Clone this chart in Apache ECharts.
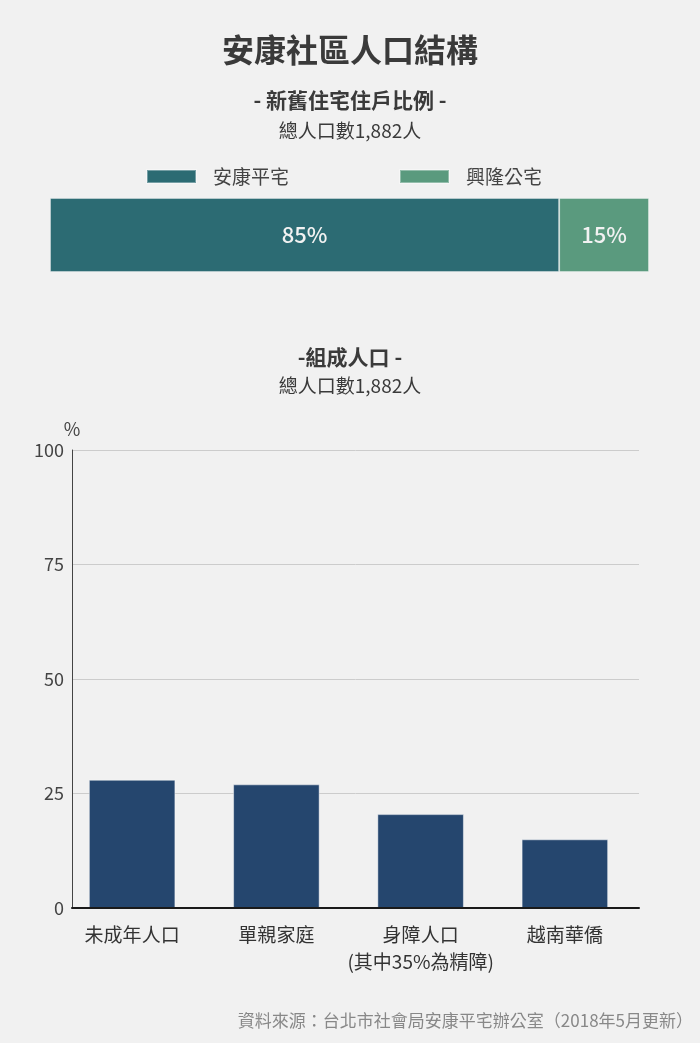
<!DOCTYPE html>
<html>
<head>
<meta charset="utf-8">
<script src="https://cdn.jsdelivr.net/npm/echarts@6/dist/echarts.min.js"></script>
<style>
html,body{margin:0;padding:0;background:#f1f1f1;}
#c{width:700px;height:1043px;}
</style>
</head>
<body>
<div id="c"></div>
<script>
// ---- data ----
const shareCats = ['安康平宅', '興隆公宅'];
const shareValues = [85, 15];
const groupCats = ['未成年人口', '單親家庭', '身障人口\n(其中35%為精障)', '越南華僑'];
const groupValues = [28, 27, 20.5, 15];
const yMin = 0, yMax = 100, yStep = 25;

const FONT = '"Noto Sans CJK TC","Noto Sans",sans-serif';
const shareColors = ['#2c6b73', '#5a9a7e'];
const barColor = '#25466e';

const chart = echarts.init(document.getElementById('c'), null, {renderer: 'canvas'});

const option = {
  backgroundColor: '#f1f1f1',
  animation: false,
  textStyle: {fontFamily: FONT},
  title: [
    {text: '安康社區人口結構', left: 'center', top: 29,
     textStyle: {fontSize: 32, fontWeight: 'bold', color: '#3a3a3a', fontFamily: FONT}},
    {text: '- 新舊住宅住戶比例 -', left: 'center', top: 85,
     textStyle: {fontSize: 21, fontWeight: 'bold', color: '#3a3a3a', fontFamily: FONT}},
    {text: '總人口數1,882人', left: 'center', top: 116,
     textStyle: {fontSize: 19, fontWeight: 'normal', color: '#3a3a3a', fontFamily: FONT}},
    {text: '-組成人口 -', left: 'center', top: 342,
     textStyle: {fontSize: 21, fontWeight: 'bold', color: '#3a3a3a', fontFamily: FONT}},
    {text: '總人口數1,882人', left: 'center', top: 371,
     textStyle: {fontSize: 19, fontWeight: 'normal', color: '#3a3a3a', fontFamily: FONT}},
    {text: '資料來源：台北市社會局安康平宅辦公室（2018年5月更新）', right: 2, top: 1007,
     textStyle: {fontSize: 17, fontWeight: 'normal', color: '#888', fontFamily: FONT}}
  ],
  legend: [
    {data: [shareCats[0]], left: 141, top: 162, icon: 'rect', itemWidth: 49, itemHeight: 13,
     textStyle: {fontSize: 19, color: '#444', padding: [0, 0, 0, 12], fontFamily: FONT}},
    {data: [shareCats[1]], left: 394, top: 162, icon: 'rect', itemWidth: 49, itemHeight: 13,
     textStyle: {fontSize: 19, color: '#444', padding: [0, 0, 0, 12], fontFamily: FONT}}
  ],
  grid: [
    {left: 50, right: 51, top: 198, height: 74},
    {left: 72, right: 61, top: 450, bottom: 135},
    {left: 60, right: 63, top: 450, bottom: 135}
  ],
  xAxis: [
    {gridIndex: 0, type: 'value', min: 0, max: 100, show: false},
    {gridIndex: 1, type: 'category', data: groupCats, z: 5,
     axisLine: {show: true, lineStyle: {color: '#1a1a1a', width: 2}},
     axisTick: {show: false}, axisLabel: {show: false}, splitLine: {show: false}},
    {gridIndex: 2, type: 'category', data: groupCats,
     axisLine: {show: false}, axisTick: {show: false},
     axisLabel: {show: true, interval: 0, fontSize: 19, color: '#333', margin: 13, lineHeight: 27, fontFamily: FONT}}
  ],
  yAxis: [
    {gridIndex: 0, type: 'category', data: ['住戶'], show: false},
    {gridIndex: 1, type: 'value', min: yMin, max: yMax, interval: yStep,
     name: '%', nameLocation: 'end', nameGap: 12,
     nameTextStyle: {fontSize: 18, color: '#444', align: 'center', fontFamily: FONT},
     axisLine: {show: true, lineStyle: {color: '#444', width: 1}},
     axisTick: {show: false},
     axisLabel: {fontSize: 18, color: '#444', margin: 8, fontFamily: FONT},
     splitLine: {show: true, lineStyle: {color: '#cccccc', width: 1}}},
    {gridIndex: 2, type: 'value', min: yMin, max: yMax, interval: yStep, show: false,
     splitLine: {show: false}}
  ],
  series: [
    {name: shareCats[0], type: 'bar', stack: 'share', xAxisIndex: 0, yAxisIndex: 0,
     barWidth: '100%', data: [shareValues[0]],
     itemStyle: {color: shareColors[0], borderColor: 'rgba(255,255,255,0.35)', borderWidth: 1},
     label: {show: true, position: 'inside', formatter: '{c}%', fontSize: 22, fontWeight: 500, color: '#f2f2f2', fontFamily: FONT}},
    {name: shareCats[1], type: 'bar', stack: 'share', xAxisIndex: 0, yAxisIndex: 0,
     barWidth: '100%', data: [shareValues[1]],
     itemStyle: {color: shareColors[1], borderColor: 'rgba(255,255,255,0.35)', borderWidth: 1},
     label: {show: true, position: 'inside', formatter: '{c}%', fontSize: 22, fontWeight: 500, color: '#f2f2f2', fontFamily: FONT}},
    {name: '組成人口', type: 'bar', xAxisIndex: 2, yAxisIndex: 2, barWidth: '60%',
     data: groupValues,
     itemStyle: {color: barColor, borderColor: 'rgba(255,255,255,0.45)', borderWidth: 1}}
  ]
};
chart.setOption(option);
</script>
</body>
</html>
